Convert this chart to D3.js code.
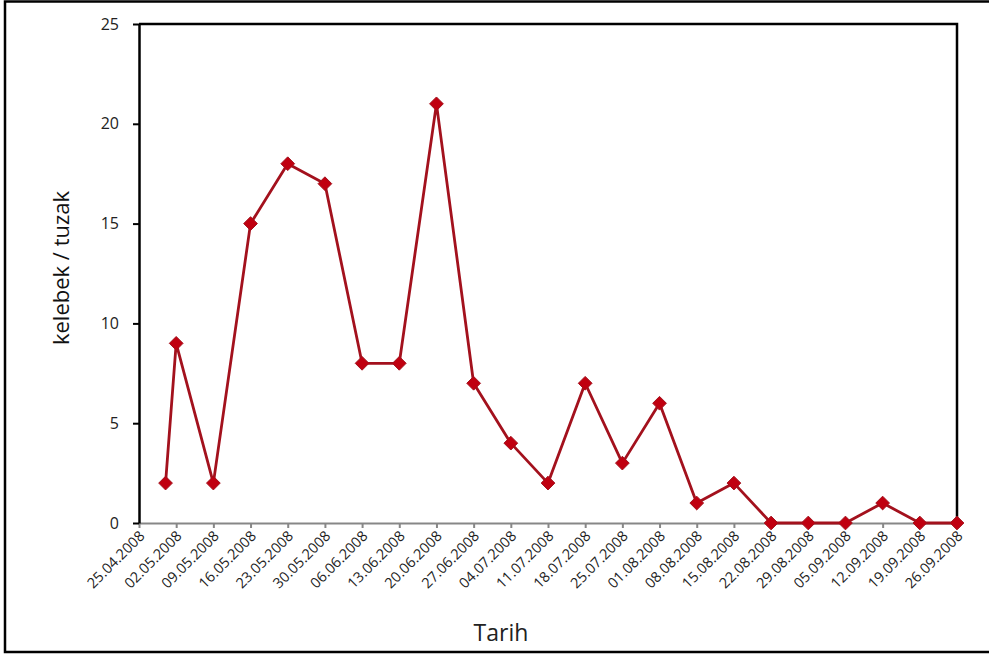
<!DOCTYPE html>
<html>
<head>
<meta charset="utf-8">
<script src="https://cdn.jsdelivr.net/npm/d3@7/dist/d3.min.js"></script>
<style>
  html, body { margin: 0; padding: 0; background: #fff; }
  svg { display: block; }
  text { font-family: "Open Sans", "Noto Sans", sans-serif; }
</style>
</head>
<body>
<svg id="chart" width="989" height="657"></svg>
<script>
// Trap catch dates (dd.mm.yyyy) and moths counted per trap
const sampleDates = ["30.04.2008", "02.05.2008", "09.05.2008", "16.05.2008", "23.05.2008",
  "30.05.2008", "06.06.2008", "13.06.2008", "20.06.2008", "27.06.2008", "04.07.2008",
  "11.07.2008", "18.07.2008", "25.07.2008", "01.08.2008", "08.08.2008", "15.08.2008",
  "22.08.2008", "29.08.2008", "05.09.2008", "12.09.2008", "19.09.2008", "26.09.2008"];
const mothsPerTrap = [2, 9, 2, 15, 18, 17, 8, 8, 21, 7, 4, 2, 7, 3, 6, 1, 2, 0, 0, 0, 1, 0, 0];

// Weekly tick labels on the date axis
const tickLabels = ["25.04.2008", "02.05.2008", "09.05.2008", "16.05.2008", "23.05.2008",
  "30.05.2008", "06.06.2008", "13.06.2008", "20.06.2008", "27.06.2008", "04.07.2008",
  "11.07.2008", "18.07.2008", "25.07.2008", "01.08.2008", "08.08.2008", "15.08.2008",
  "22.08.2008", "29.08.2008", "05.09.2008", "12.09.2008", "19.09.2008", "26.09.2008"];
const yTicks = [0, 5, 10, 15, 20, 25];

const parseDate = d3.utcParse("%d.%m.%Y");
const fmtDate = d3.utcFormat("%d.%m.%Y");
const data = sampleDates.map((d, i) => ({ date: parseDate(d), value: mothsPerTrap[i] }));
const tickDates = tickLabels.map(parseDate);

const svg = d3.select("#chart");
const plot = { left: 139, right: 957, top: 24, bottom: 523 };

const x = d3.scaleUtc()
  .domain([tickDates[0], tickDates[tickDates.length - 1]])
  .range([plot.left, plot.right]);
const y = d3.scaleLinear().domain([0, 25]).range([plot.bottom, plot.top]);

// Outer chart frame
svg.append("rect")
  .attr("x", 5).attr("y", 1.5).attr("width", 1000).attr("height", 650.5)
  .attr("fill", "none").attr("stroke", "#000").attr("stroke-width", 2.5);

// Plot-area frame (top and right edges)
svg.append("path")
  .attr("d", `M${plot.left},${plot.top}H${plot.right}V${plot.bottom}`)
  .attr("fill", "none").attr("stroke", "#000").attr("stroke-width", 2.5);

// X axis (date axis, weekly ticks)
const xAxis = svg.append("g")
  .attr("transform", `translate(0,${plot.bottom})`)
  .call(d3.axisBottom(x).tickValues(tickDates).tickFormat(fmtDate).tickSizeInner(5).tickSizeOuter(0));
xAxis.select(".domain").attr("stroke", "#878787").attr("stroke-width", 2);
xAxis.selectAll(".tick line").attr("stroke", "#878787").attr("stroke-width", 2);
xAxis.selectAll(".tick text")
  .attr("fill", "#222").attr("font-size", 14.5)
  .attr("text-anchor", "end")
  .attr("dy", 0).attr("y", 0)
  .attr("transform", "translate(6,14) rotate(-45)");

// Y axis
const yAxis = svg.append("g")
  .attr("transform", `translate(${plot.left},0)`)
  .call(d3.axisLeft(y).tickValues(yTicks).tickSizeInner(6).tickSizeOuter(0).tickPadding(14));
yAxis.select(".domain").attr("stroke", "#000").attr("stroke-width", 2.5);
yAxis.selectAll(".tick text").attr("fill", "#222").attr("font-size", 16);
yAxis.selectAll(".tick line").attr("stroke", "#000").attr("stroke-width", 2);

// Axis titles
svg.append("text")
  .attr("x", 501).attr("y", 641)
  .attr("text-anchor", "middle").attr("font-size", 23).attr("fill", "#222")
  .text("Tarih");
svg.append("text")
  .attr("transform", `translate(69,268) rotate(-90)`)
  .attr("text-anchor", "middle").attr("font-size", 22).attr("fill", "#111")
  .text("kelebek / tuzak");

// Series line
const line = d3.line().x(d => x(d.date)).y(d => y(d.value));
svg.append("path")
  .datum(data)
  .attr("d", line)
  .attr("fill", "none").attr("stroke", "#A3111D").attr("stroke-width", 2.8)
  .attr("stroke-linejoin", "round");

// Diamond markers
const diamond = d3.symbol().type(d3.symbolDiamond2).size(120);
svg.append("g").selectAll("path")
  .data(data)
  .join("path")
  .attr("transform", d => `translate(${x(d.date)},${y(d.value)})`)
  .attr("d", diamond)
  .attr("fill", "#C00010").attr("stroke", "#A3111D").attr("stroke-width", 1);
</script>
</body>
</html>
